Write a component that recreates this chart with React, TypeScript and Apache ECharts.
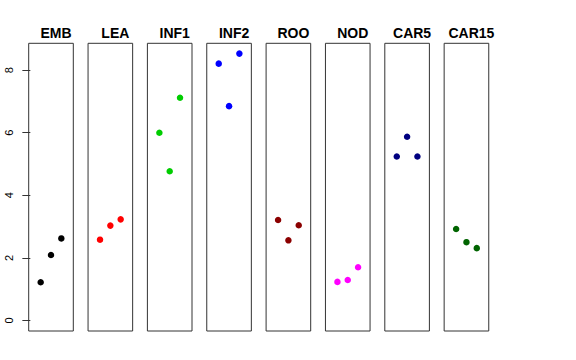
import React, { useEffect, useRef } from "react";
import * as echarts from "echarts";

const categories = ["EMB", "LEA", "INF1", "INF2", "ROO", "NOD", "CAR5", "CAR15"];
const embValues = [1.22, 2.09, 2.62];
const leaValues = [2.58, 3.03, 3.23];
const inf1Values = [6.0, 4.77, 7.12];
const inf2Values = [8.21, 6.85, 8.53];
const rooValues = [3.21, 2.56, 3.04];
const nodValues = [1.23, 1.29, 1.7];
const car5Values = [5.24, 5.87, 5.24];
const car15Values = [2.92, 2.5, 2.31];
const groupValues = [embValues, leaValues, inf1Values, inf2Values, rooValues, nodValues, car5Values, car15Values];
const yTicks = [0, 2, 4, 6, 8];
const xPositions = [1, 2, 3];

const colors = ["#000000", "#FF0000", "#00CD00", "#0000FF", "#8B0000", "#FF00FF", "#000080", "#006400"];

export default function App() {
  const ref = useRef<HTMLDivElement>(null);
  useEffect(() => {
    if (!ref.current) return;
    const chart = echarts.init(ref.current, null, { renderer: "svg" });
    const boxLeft0 = 28.7;
    const pitch = 59.35;
    const boxW = 44.6;
    const top = 43.3;
    const height = 287.7;
    const grids: any[] = [];
    const xAxes: any[] = [];
    const yAxes: any[] = [];
    const series: any[] = [];
    const titles: any[] = [];
    categories.forEach((cat, i) => {
      const left = boxLeft0 + i * pitch;
      grids.push({
        left,
        top,
        width: boxW,
        height,
        show: true,
        borderColor: "#333",
        borderWidth: 1,
        backgroundColor: "transparent",
        containLabel: false,
      });
      xAxes.push({
        type: "value",
        gridIndex: i,
        min: -0.16,
        max: 4.16,
        show: false,
      });
      yAxes.push({
        type: "value",
        gridIndex: i,
        min: -0.34,
        max: 8.86,
        show: i === 0,
        splitLine: { show: false },
        axisLine: { show: false },
        axisTick: {
          show: i === 0,
          length: 8,
          customValues: yTicks,
          lineStyle: { color: "#333", width: 1 },
        },
        axisLabel: {
          show: i === 0,
          customValues: yTicks,
          rotate: 90,
          margin: 14,
          fontSize: 11,
          color: "#000",
          fontFamily: "Liberation Sans, Arial, sans-serif",
        },
      });
      series.push({
        type: "scatter",
        xAxisIndex: i,
        yAxisIndex: i,
        symbol: "circle",
        symbolSize: 6.5,
        itemStyle: { color: colors[i], opacity: 1 },
        data: groupValues[i].map((v, j) => [xPositions[j], v]),
      });
      titles.push({
        text: cat,
        left: left + boxW / 2,
        top: 21,
        textAlign: "center",
        textStyle: {
          fontSize: 14,
          fontWeight: "bold",
          color: "#000",
          fontFamily: "Liberation Sans, Arial, sans-serif",
        },
      });
    });
    chart.setOption({
      animation: false,
      backgroundColor: "#fff",
      title: titles,
      grid: grids,
      xAxis: xAxes,
      yAxis: yAxes,
      series,
    });
    return () => chart.dispose();
  }, []);
  return (
    <div
      ref={ref}
      style={{ position: "fixed", left: 0, top: 0, width: 576, height: 360 }}
    />
  );
}
